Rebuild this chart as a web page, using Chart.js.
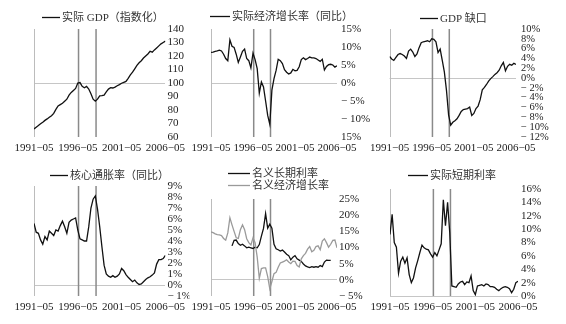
<!DOCTYPE html>
<html>
<head>
<meta charset="utf-8">
<script src="https://cdn.jsdelivr.net/npm/chart.js@4.4.1/dist/chart.umd.min.js"></script>
<style>
  html, body { margin: 0; padding: 0; background: #fff; }
  #wrap { position: relative; width: 566px; height: 324px; overflow: hidden; background: #fff; }
  #wrap canvas { position: absolute; display: block; }
</style>
</head>
<body>
<div id="wrap"></div>
<script>
// Quarterly observations, 1991-05 .. 2006-05
const quarters = [
  "1991-05","1991-08","1991-11",
  "1992-02","1992-05","1992-08","1992-11",
  "1993-02","1993-05","1993-08","1993-11",
  "1994-02","1994-05","1994-08","1994-11",
  "1995-02","1995-05","1995-08","1995-11",
  "1996-02","1996-05","1996-08","1996-11",
  "1997-02","1997-05","1997-08","1997-11",
  "1998-02","1998-05","1998-08","1998-11",
  "1999-02","1999-05","1999-08","1999-11",
  "2000-02","2000-05","2000-08","2000-11",
  "2001-02","2001-05","2001-08","2001-11",
  "2002-02","2002-05","2002-08","2002-11",
  "2003-02","2003-05","2003-08","2003-11",
  "2004-02","2004-05","2004-08","2004-11",
  "2005-02","2005-05","2005-08","2005-11",
  "2006-02","2006-05"
];

// x-axis tick dates and their printed labels
const tickDates = ["1991-05","1996-05","2001-05","2006-05"];
const tickText  = ["1991\u221205","1996\u221205","2001\u221205","2006\u221205"];

// shaded period boundaries (vertical rules)
const markerDates = ["1996-06","1998-06"];

// Real GDP, index
const realGdp = [66,67.3,68.5,69.8,71,72.3,73.4,74.6,75.8,77.5,80.5,83,84,85,86.5,88,91,93,94.5,96,
  100,100.3,97.5,96.5,97.5,95.5,92,88,86.5,88,90.5,90.6,91,93.5,95.5,96.5,96.3,97,98,98.8,
  99.8,100.5,101.2,103.5,106,108,110.5,113,115,116.5,118.5,120,121.5,123.5,122.8,124.5,126,127.5,129,130,131];

// Real growth, % y/y
const realGrowth = [8.5,8.6,8.8,8.9,9.1,8.9,8.0,6.8,6.2,12,10.2,9.9,8,5.7,7.2,8.8,9.4,6.8,6.2,4.2,
  8.3,6.5,4,-2.8,0.3,-1.1,-5,-9,-11.5,-2,1.2,3.5,6.6,6.2,5.4,3.7,3,2.5,2.8,3.8,
  3.4,3.5,4.5,6.5,7,6.5,6.8,7.2,7,7,6.8,6.4,6,6.6,3.6,4.6,5.1,5.2,5,4.4,4.8];

// Output gap, %
const gdpGap = [4.4,3.9,3.6,4.2,4.8,5,4.8,4.5,4,5.5,5.9,5.3,4.4,4.9,6.2,7.2,7.4,7.5,7.6,7.4,
  8,7.9,7.4,5.2,5.9,3.6,1.2,-2.5,-7.5,-9.6,-9,-8.7,-8.3,-7.6,-6.8,-6.4,-6.3,-6.2,-5.9,-7.6,
  -7.2,-6.2,-5.7,-4.4,-2.4,-1.9,-1.3,-0.6,-0.1,0.3,0.75,1.1,1.6,2.5,3.2,1.5,2.4,2.8,2.6,3,2.8];

// Core inflation, % y/y
const coreInflation = [5.6,4.8,4.7,4.1,3.7,4.4,4.1,4.9,4.7,4.5,5.0,4.9,5.4,5.8,5.3,4.7,5.7,5.9,6.0,6.1,
  5.0,4.2,4.1,4.0,4.0,5.3,7.0,7.8,8.1,6.9,5.3,3.5,1.8,1.0,0.8,0.7,0.85,0.7,0.8,1.0,
  1.5,1.3,0.95,0.7,0.5,0.3,0.45,0.2,0.05,0.1,0.3,0.5,0.65,0.75,0.9,1.1,1.9,2.3,2.3,2.4,2.7];

// Nominal long-term rate, %
const longRate = [null,null,null,null,null,null,null,null,null,null,
  10.5,12.2,12.3,11.2,10.7,11,10.5,9.9,10.1,9.9,
  9.7,10.1,9.9,10.9,13.5,15.9,20.5,16,17.2,16,11,9.6,9.3,8.9,9.2,8.6,7.9,7.5,6.2,7.0,
  7.5,6.5,6.1,5.7,4.9,4.3,4.0,3.8,4.1,3.9,4.1,3.9,4.4,4.1,5.5,6.1,6.0,6.0,null,null,null];

// Nominal growth, % y/y
const nominalGrowth = [14.8,14.6,14.2,14,13.9,13.7,12.8,12.3,14.5,19.2,17,15,13,12.8,15.5,17,15.5,12.7,11.5,10.8,
  13,11.5,7,0.5,3.5,3.7,3.7,1,-2.8,-0.5,1.9,2.3,3.9,5.2,5.5,5.8,6.2,5.5,5,5.8,
  5.7,4.4,4,6.5,7.5,8.2,9.5,10.3,8.7,9.1,10.3,10.5,9.3,12,12.7,11.5,10.1,11,12.2,12.3,9.9];

// Real short-term rate, %
const shortRate = [9.2,12.2,8,7.3,3.4,5.2,5.8,4.9,5.7,3.2,2.0,2.7,4.2,5.3,6.5,7.6,7.2,7.0,6.9,6.3,
  5.8,6.5,6.0,6.9,7.8,14.4,10.5,14.0,9.5,1.5,1.4,1.3,1.8,2.1,2.2,1.7,2.1,2.0,3.0,0.8,
  0.2,1.5,1.6,1.7,1.5,1.8,1.7,1.4,1.4,1.3,1.0,0.8,1.1,1.3,1.4,1.3,1.1,0.5,1.0,2.0,2.2];

// y-axis labels, top to bottom
const gdpTicks    = ["140","130","120","110","100","90","80","70","60"];
const growthTicks = ["15%","10%","5%","0%","\u2212 5%","\u2212 10%","15%"];
const gapTicks    = ["10%","8%","6%","4%","2%","0%","\u2212 2%","\u2212 4%","\u2212 6%","\u2212 8%","\u2212 10%","\u2212 12%"];
const inflTicks   = ["9%","8%","7%","6%","5%","4%","3%","2%","1%","0%","\u2212 1%"];
const rateTicks   = ["25%","20%","15%","10%","5%","0%","\u2212 5%"];
const shortTicks  = ["16%","14%","12%","10%","8%","6%","4%","2%","0%"];

function monthIndex(s) {
  const [y, m] = s.split('-').map(Number);
  return (y - 1991) * 12 + (m - 5);
}

const BLACK = '#111111';
const GREY = '#9a9a9a';
const SERIF = '"Liberation Serif", "Times New Roman", serif';
const LEGEND_FONT = '11px "Liberation Serif", "Noto Sans CJK SC", serif';

const panels = [
  { cell: [0, 0, 190, 160], area: [34, 29, 166, 137], min: 60, max: 140, step: 10, base: 100,
    labels: gdpTicks, pad: 2, size: 11,
    series: [{ values: realGdp, color: BLACK }],
    legend: [{ text: '实际 GDP（指数化）', x0: 42, x1: 60, y: 17, color: BLACK }] },
  { cell: [186, 0, 186, 160], area: [211, 29, 337, 137], min: -15, max: 15, step: 5, base: 0,
    labels: growthTicks, pad: 4, size: 11,
    series: [{ values: realGrowth, color: BLACK }],
    legend: [{ text: '实际经济增长率（同比）', x0: 210, x1: 230, y: 16, color: BLACK }] },
  { cell: [365, 0, 201, 160], area: [389, 29, 516, 137], min: -12, max: 10, step: 2, base: 0,
    labels: gapTicks, pad: 5, size: 10.5,
    series: [{ values: gdpGap, color: BLACK }],
    legend: [{ text: 'GDP 缺口', x0: 420, x1: 438, y: 18, color: BLACK }] },
  { cell: [0, 160, 190, 164], area: [34, 186, 166, 296], min: -1, max: 9, step: 1, base: 0,
    labels: inflTicks, pad: 2, size: 11,
    series: [{ values: coreInflation, color: BLACK }],
    legend: [{ text: '核心通胀率（同比）', x0: 50, x1: 68, y: 175, color: BLACK }] },
  { cell: [186, 160, 186, 164], area: [211, 199, 337, 296], min: -5, max: 25, step: 5, base: 0,
    labels: rateTicks, pad: 2, size: 11,
    series: [{ values: nominalGrowth, color: GREY }, { values: longRate, color: BLACK }],
    legend: [{ text: '名义长期利率', x0: 228, x1: 250, y: 173, color: BLACK },
             { text: '名义经济增长率', x0: 228, x1: 250, y: 185, color: GREY }] },
  { cell: [365, 160, 201, 164], area: [390, 189, 518, 296], min: 0, max: 16, step: 2, base: 0,
    labels: shortTicks, pad: 3, size: 11,
    series: [{ values: shortRate, color: BLACK }],
    legend: [{ text: '实际短期利率', x0: 408, x1: 428, y: 175, color: BLACK }] }
];

// Left frame line, base line already from grid; vertical period rules
const rulesPlugin = {
  id: 'rules',
  beforeDatasetsDraw(chart) {
    const { ctx, chartArea: a, scales } = chart;
    ctx.save();
    ctx.strokeStyle = '#bcbcbc';
    ctx.lineWidth = 1;
    ctx.beginPath();
    ctx.moveTo(Math.round(a.left) + 0.5, a.top);
    ctx.lineTo(Math.round(a.left) + 0.5, a.bottom);
    ctx.stroke();
    ctx.strokeStyle = '#8a8a8a';
    ctx.lineWidth = 1.5;
    markerDates.forEach(d => {
      const px = scales.x.getPixelForValue(monthIndex(d));
      ctx.beginPath();
      ctx.moveTo(px, a.top);
      ctx.lineTo(px, a.bottom);
      ctx.stroke();
    });
    ctx.restore();
  }
};

// Line-sample legend drawn above each plot
const keyPlugin = {
  id: 'key',
  afterDraw(chart, args, opts) {
    const { ctx } = chart;
    ctx.save();
    ctx.font = LEGEND_FONT;
    ctx.textBaseline = 'middle';
    (opts.items || []).forEach(it => {
      const ox = opts.originX, oy = opts.originY;
      ctx.strokeStyle = it.color;
      ctx.lineWidth = 1.3;
      ctx.beginPath();
      ctx.moveTo(it.x0 - ox, it.y - oy + 0.5);
      ctx.lineTo(it.x1 - ox, it.y - oy + 0.5);
      ctx.stroke();
      ctx.fillStyle = '#333';
      ctx.fillText(it.text, it.x1 - ox + 2, it.y - oy + 1);
    });
    ctx.restore();
  }
};

const wrap = document.getElementById('wrap');
const tickValues = tickDates.map(monthIndex);

panels.forEach(p => {
  const [cx, cy, cw, ch] = p.cell;
  const [al, at, ar, ab] = p.area;
  const canvas = document.createElement('canvas');
  canvas.width = cw;
  canvas.height = ch;
  canvas.style.left = cx + 'px';
  canvas.style.top = cy + 'px';
  canvas.style.width = cw + 'px';
  canvas.style.height = ch + 'px';
  wrap.appendChild(canvas);

  const yWidth = cx + cw - ar;
  const xHeight = cy + ch - ab;

  new Chart(canvas, {
    type: 'line',
    data: {
      datasets: p.series.map(s => ({
        data: s.values.map((v, i) => ({ x: monthIndex(quarters[i]), y: v })),
        borderColor: s.color,
        borderWidth: 1.3,
        pointRadius: 0,
        tension: 0,
        fill: false,
        spanGaps: false
      }))
    },
    options: {
      responsive: false,
      animation: false,
      devicePixelRatio: 1,
      layout: { padding: { left: al - cx, top: at - cy, right: 0, bottom: 0 } },
      plugins: {
        legend: { display: false },
        tooltip: { enabled: false },
        key: { items: p.legend, originX: cx, originY: cy }
      },
      scales: {
        x: {
          type: 'linear',
          min: 0,
          max: 180,
          afterBuildTicks: sc => { sc.ticks = tickValues.map(v => ({ value: v })); },
          afterFit: sc => { sc.height = xHeight; },
          ticks: {
            autoSkip: false,
            maxRotation: 0,
            padding: 5,
            color: '#222',
            font: { family: SERIF, size: 11 },
            callback: v => tickText[tickValues.indexOf(v)]
          },
          grid: { display: false, drawTicks: false },
          border: { display: false }
        },
        y: {
          position: 'right',
          min: p.min,
          max: p.max,
          afterFit: sc => { sc.width = yWidth; },
          ticks: {
            stepSize: p.step,
            autoSkip: false,
            padding: p.pad,
            color: '#222',
            font: { family: SERIF, size: p.size },
            callback: (v, i, arr) => p.labels[arr.length - 1 - i]
          },
          grid: {
            drawTicks: false,
            lineWidth: 1,
            color: c => (c.tick && c.tick.value === p.base) ? '#c6c6c6' : 'rgba(0,0,0,0)'
          },
          border: { display: false }
        }
      }
    },
    plugins: [rulesPlugin, keyPlugin]
  });
});
</script>
</body>
</html>
